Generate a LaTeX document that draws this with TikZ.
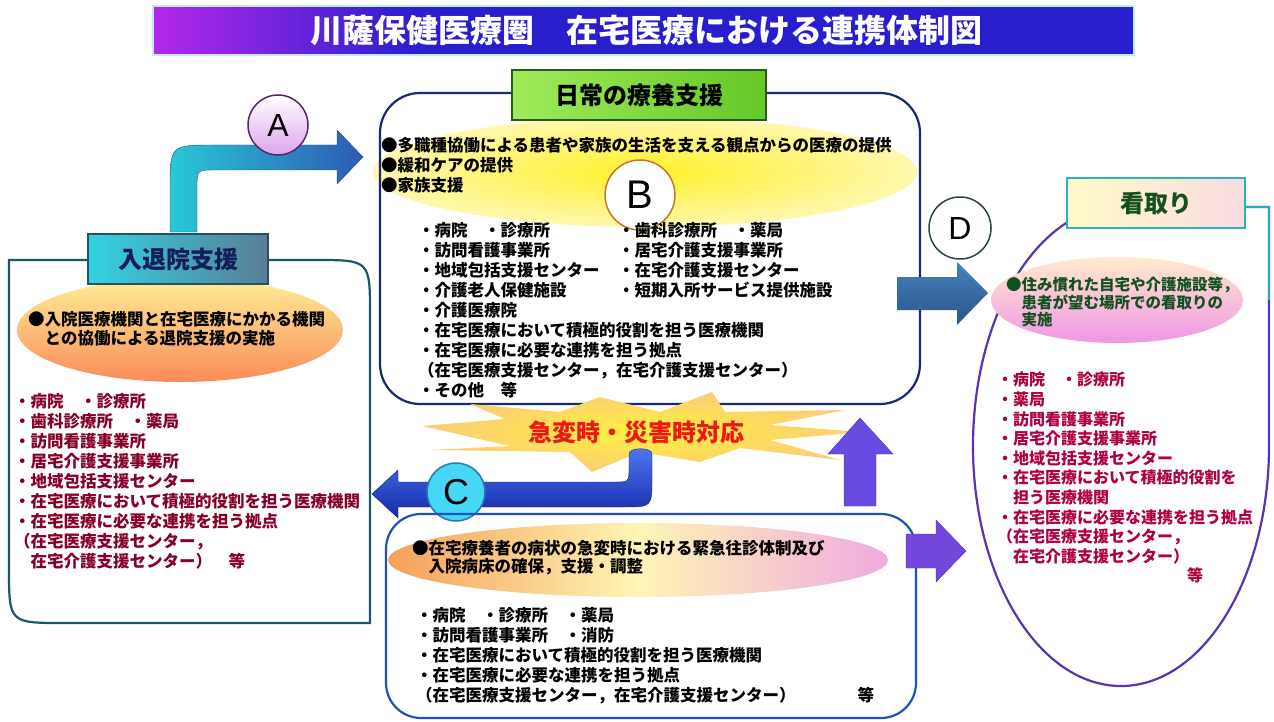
\documentclass[tikz,border=0pt]{standalone}
\usepackage{fontspec}
\setmainfont{Noto Sans CJK JP}
\newfontfamily\latinfont{Liberation Sans}

\definecolor{ttlpurple}{RGB}{180,40,235}
\definecolor{ttlblue}{RGB}{40,30,205}
\definecolor{leftline}{RGB}{30,85,105}
\definecolor{midline}{RGB}{25,40,115}
\definecolor{lowline}{RGB}{30,80,190}
\definecolor{rightline}{RGB}{90,50,180}
\definecolor{rightteal}{RGB}{40,170,185}
\definecolor{leftred}{RGB}{135,0,40}
\definecolor{rightred}{RGB}{175,0,65}
\definecolor{darkgreen}{RGB}{20,80,30}
\definecolor{burstred}{RGB}{235,25,20}

\newcommand\bodyfont{\fontsize{16.5}{20}\selectfont\bfseries}
\newcommand\headfont{\fontsize{24}{24}\selectfont\bfseries}

\begin{document}
\begin{tikzpicture}[x=1pt,y=1pt,
    lbl/.style={draw,line width=1.5,minimum height=50,inner sep=0,font=\headfont},
    letter/.style={circle,draw,line width=1.5,inner sep=0,font=\latinfont\fontsize{32}{32}\selectfont},
    txt/.style={anchor=north west,align=left,inner sep=0,font=\bodyfont},
    tight/.style={font=\fontsize{16.5}{18}\selectfont\bfseries},
    boxline/.style={line width=2.2}]
    %initialisation
    \useasboundingbox (0,0) rectangle (1274,-722);
    %title
    \fill[ttlblue] (153,-6) rectangle (1134,-55);
    \shade[left color=ttlpurple,right color=ttlblue] (153,-6) rectangle (420,-55);
    \draw[cyan!25,line width=1.5] (153,-6) rectangle (1134,-55);
    \node[text=white,font=\fontsize{32}{32}\selectfont\bfseries] (T) at (646,-30) {川薩保健医療圏　在宅医療における連携体制図};
    %arrow A
    \shade[left color={rgb,255:red,40;green,200;blue,215},right color={rgb,255:red,45;green,90;blue,180},draw={rgb,255:red,40;green,80;blue,130},thin]
      (170,-232) -- (170,-190) .. controls (170,-145) .. (215,-145) -- (337,-145) -- (337,-130)
      -- (363,-157) -- (337,-184) -- (337,-170) -- (215,-170) .. controls (197,-170) .. (197,-188)
      -- (197,-232) -- cycle;
    \node[letter,minimum size=60,top color=white,bottom color={rgb,255:red,220;green,165;blue,235},draw={rgb,255:red,80;green,40;blue,100}] (A) at (278,-125) {A};
    %left box
    \draw[boxline,leftline] (9,-260) -- (315,-260) .. controls (370,-260) .. (370,-315)
      -- (370,-623) -- (64,-623) .. controls (9,-623) .. (9,-568) -- cycle;
    \shade[top color={rgb,255:red,255;green,238;blue,150},bottom color={rgb,255:red,250;green,140;blue,90}] (180,-330) ellipse [x radius=163,y radius=52];
    \node[lbl,minimum width=180,left color={rgb,255:red,50;green,210;blue,225},right color={rgb,255:red,90;green,125;blue,150},draw={rgb,255:red,40;green,80;blue,100},text={rgb,255:red,20;green,30;blue,90}] (L) at (178,-259) {入退院支援};
    \node[txt,font=\fontsize{16.5}{19}\selectfont\bfseries] (l1) at (28,-311) {●入院医療機関と在宅医療にかかる機関\\　との協働による退院支援の実施};
    \node[txt,text=leftred] (l2) at (14,-393) {・病院　・診療所\\・歯科診療所　・薬局\\・訪問看護事業所\\・居宅介護支援事業所\\・地域包括支援センター\\・在宅医療において積極的役割を担う医療機関\\・在宅医療に必要な連携を担う拠点\\（在宅医療支援センター，\\　在宅介護支援センター）　等};
    %middle box
    \shade[inner color={rgb,255:red,255;green,240;blue,40},outer color={rgb,255:red,255;green,248;blue,175}] (645,-172) ellipse [x radius=272,y radius=55];
    \draw[boxline,midline,rounded corners=40] (380,-93) rectangle (920,-404);
    \node[lbl,minimum width=254,left color={rgb,255:red,160;green,235;blue,90},right color={rgb,255:red,100;green,200;blue,40},draw={rgb,255:red,40;green,90;blue,30}] (M) at (639,-95) {日常の療養支援};
    \node[txt] (m1) at (381,-137) {●多職種協働による患者や家族の生活を支える観点からの医療の提供\\●緩和ケアの提供\\●家族支援};
    \node[letter,minimum size=70,fill=white,draw={rgb,255:red,195;green,120;blue,40},font=\latinfont\fontsize{40}{40}\selectfont] (B) at (640,-195) {B};
    \node[txt] (m2) at (418,-222) {・病院　・診療所\\・訪問看護事業所\\・地域包括支援センター\\・介護老人保健施設\\・介護医療院\\・在宅医療において積極的役割を担う医療機関\\・在宅医療に必要な連携を担う拠点\\（在宅医療支援センター，在宅介護支援センター）\\・その他　等};
    \node[txt] (m3) at (618,-222) {・歯科診療所　・薬局\\・居宅介護支援事業所\\・在宅介護支援センター\\・短期入所サービス提供施設};
    %burst
    \shade[inner color={rgb,255:red,255;green,240;blue,60},outer color={rgb,255:red,250;green,205;blue,120}]
      (422,-426) -- (505,-419) -- (470,-404) -- (560,-412) -- (600,-397) -- (660,-412)
      -- (712,-392) -- (725,-412) -- (845,-410) -- (770,-425) -- (862,-432) -- (770,-440)
      -- (840,-460) -- (740,-448) -- (700,-462) -- (640,-452) -- (592,-472) -- (570,-452)
      -- (430,-450) -- (510,-446) -- cycle;
    \node[text=burstred,font=\fontsize{24}{24}\selectfont\bfseries] (E) at (636,-432) {急変時・災害時対応};
    %arrow C
    \shade[top color={rgb,255:red,80;green,120;blue,240},bottom color={rgb,255:red,20;green,40;blue,170},draw={rgb,255:red,20;green,30;blue,120},thin]
      (372,-494) -- (398,-470) -- (398,-482) -- (615,-482) .. controls (629,-482) .. (629,-468)
      -- (629,-454) .. controls (629,-447) and (652,-447) .. (652,-454) -- (652,-478)
      .. controls (652,-507) .. (623,-507) -- (398,-507) -- (398,-518) -- cycle;
    \node[letter,minimum size=58,fill={rgb,255:red,70;green,215;blue,245},draw={rgb,255:red,40;green,120;blue,180},font=\latinfont\fontsize{36}{36}\selectfont] (C) at (456,-492) {C};
    %up arrow
    \filldraw[fill={rgb,255:red,105;green,75;blue,225},draw={rgb,255:red,70;green,50;blue,180},thin]
      (844,-506) -- (844,-454) -- (828,-454) -- (860,-418) -- (893,-454) -- (876,-454) -- (876,-506) -- cycle;
    %lower box
    \shade[left color={rgb,255:red,245;green,160;blue,90},right color={rgb,255:red,240;green,170;blue,225},middle color={rgb,255:red,255;green,245;blue,180}] (638,-560) ellipse [x radius=250,y radius=37];
    \draw[boxline,lowline,rounded corners=35] (386,-514) rectangle (916,-718);
    \node[txt,tight] (c1) at (412,-540) {●在宅療養者の病状の急変時における緊急往診体制及び\\　入院病床の確保，支援・調整};
    \node[txt] (c2) at (416,-607) {・病院　・診療所　・薬局\\・訪問看護事業所　・消防\\・在宅医療において積極的役割を担う医療機関\\・在宅医療に必要な連携を担う拠点\\（在宅医療支援センター，在宅介護支援センター）\hspace*{62pt}等};
    %right arrow
    \filldraw[fill={rgb,255:red,115;green,70;blue,220},draw={rgb,255:red,80;green,50;blue,180},thin]
      (906,-534) -- (936,-534) -- (936,-520) -- (966,-551) -- (936,-582) -- (936,-568) -- (906,-568) -- cycle;
    %arrow D
    \shade[top color={rgb,255:red,70;green,130;blue,185},bottom color={rgb,255:red,40;green,85;blue,140}]
      (897,-277) -- (957,-277) -- (957,-262) -- (988,-293) -- (957,-325) -- (957,-310) -- (897,-310) -- cycle;
    \node[letter,minimum size=62,fill=white,draw={rgb,255:red,40;green,70;blue,60}] (D) at (960,-228) {D};
    %right shape
    \draw[boxline,rightline] (1245,-207) -- (1269,-207) -- (1269,-446)
      arc[start angle=0,end angle=-249,x radius=148,y radius=240];
    \draw[boxline,rightteal] (1245,-207) -- (1269,-207) -- (1269,-300);
    \shade[top color={rgb,255:red,255;green,235;blue,205},bottom color={rgb,255:red,240;green,150;blue,230}] (1117,-300) ellipse [x radius=126,y radius=43];
    \node[lbl,minimum width=178,left color={rgb,255:red,255;green,250;blue,200},right color={rgb,255:red,250;green,220;blue,225},draw={rgb,255:red,40;green,180;blue,190},text=darkgreen] (R) at (1156,-203) {看取り};
    \node[txt,text=darkgreen,font=\fontsize{15.5}{17.5}\selectfont\bfseries] (r1) at (1006,-277) {●住み慣れた自宅や介護施設等，\\　患者が望む場所での看取りの\\　実施};
    \node[txt,text=rightred,font=\fontsize{16}{19.6}\selectfont\bfseries] (r2) at (997,-372) {・病院　・診療所\\・薬局\\・訪問看護事業所\\・居宅介護支援事業所\\・地域包括支援センター\\・在宅医療において積極的役割を\\　担う医療機関\\・在宅医療に必要な連携を担う拠点\\（在宅医療支援センター，\\　在宅介護支援センター）\\\hspace*{190pt}等};
\end{tikzpicture}
\end{document}
